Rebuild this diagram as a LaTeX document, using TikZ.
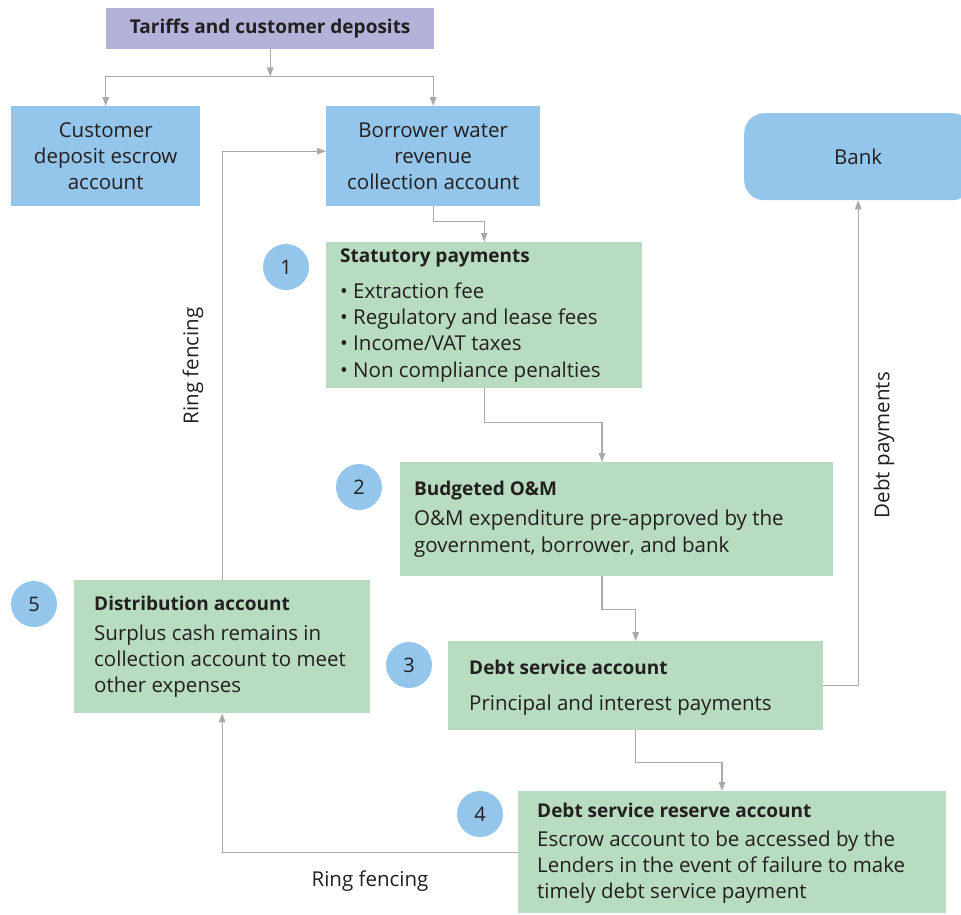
\documentclass[tikz,border=0pt]{standalone}
\usepackage{fontspec}
\setmainfont{Open Sans}
\usetikzlibrary{arrows.meta,calc}
\definecolor{blu}{HTML}{93C6EA}
\definecolor{grn}{HTML}{B8DCBF}
\definecolor{lav}{HTML}{B3B3DA}
\definecolor{lin}{HTML}{A7A9AC}
\definecolor{txt}{HTML}{231F20}
\newcommand{\ttl}[1]{{\fontsize{19}{26}\selectfont\bfseries #1}}
\begin{document}
\begin{tikzpicture}[x=1pt,y=-1pt,
  every node/.style={text=txt, font=\fontsize{20.5}{26.2}\selectfont},
  box/.style={draw=none, inner sep=0pt, anchor=north west},
  bluebox/.style={box, fill=blu},
  greenbox/.style={box, fill=grn},
  btext/.style={align=center, inner sep=0pt},
  gtext/.style={align=left, inner sep=0pt, anchor=west},
  num/.style={circle, fill=blu, minimum size=46pt, inner sep=0pt, font=\fontsize{20}{24}\selectfont},
  conn/.style={draw=lin, line width=1.4pt, -{Triangle[length=9pt,width=6.5pt]}},
  lbl/.style={inner sep=0pt}
]
\useasboundingbox[fill=white] (0,0) rectangle (961,914);

% boxes
\node[box, fill=lav, minimum width=328pt, minimum height=41pt] (tar) at (106,8) {};
\node[btext] at (tar.center) {\ttl{Tariffs and customer deposits}};

\node[bluebox, minimum width=189pt, minimum height=100pt] (cust) at (11,106) {};
\node[btext] at (cust.center) {Customer\\deposit escrow\\account};

\node[bluebox, minimum width=214pt, minimum height=100pt] (borrower) at (326,106) {};
\node[btext] at (borrower.center) {Borrower water\\revenue\\collection account};

\node[bluebox, rounded corners=20pt, minimum width=228pt, minimum height=87pt] (bank) at (744,113) {};
\node[btext] at (bank.center) {Bank};

\node[greenbox, minimum width=316pt, minimum height=146pt] (stat) at (326,242) {};
\node[gtext] at ([xshift=14pt]stat.west) {\ttl{Statutory payments}\\[10pt]
  • Extraction fee\\ • Regulatory and lease fees\\ • Income/VAT taxes\\ • Non compliance penalties};

\node[greenbox, minimum width=433pt, minimum height=114pt] (om) at (400,462) {};
\node[gtext] at ([xshift=14pt]om.west) {\ttl{Budgeted O\&M}\\[4pt]
  O\&M expenditure pre-approved by the\\ government, borrower, and bank};

\node[greenbox, minimum width=375pt, minimum height=89pt] (ds) at (448,641) {};
\node[gtext] at ([xshift=21pt,yshift=-2pt]ds.west) {\ttl{Debt service account}\\[9pt]
  Principal and interest payments};

\node[greenbox, minimum width=428pt, minimum height=122pt] (dsra) at (518,791) {};
\node[gtext] at ([xshift=19pt,yshift=-1pt]dsra.west) {\ttl{Debt service reserve account}\\[3pt]
  Escrow account to be accessed by the\\ Lenders in the event of failure to make\\ timely debt service payment};

\node[greenbox, minimum width=296pt, minimum height=133pt] (dist) at (74,580) {};
\node[gtext] at ([xshift=20pt]dist.west) {\ttl{Distribution account}\\[4pt]
  Surplus cash remains in\\ collection account to meet\\ other expenses};

% number circles
\node[num] (n1) at (286,267) {1};
\node[num] (n2) at (359,487) {2};
\node[num] (n3) at (409,665) {3};
\node[num] (n4) at (480,814) {4};
\node[num] (n5) at (34,604) {5};

% connectors
\coordinate (split) at ($(tar.south)+(0,27)$);
\draw[conn] (tar.south) -- (split);
\draw[conn] (split) -| (cust.north);
\draw[conn] (split) -| (borrower.north);
\draw[conn] (borrower.south) -- ++(0,15) -| (stat.north);
\draw[conn] (stat.south) -- ++(0,34) -| ([xshift=202pt]om.north west);
\draw[conn] ([xshift=202pt]om.south west) -- ++(0,33) -| (ds.north);
\draw[conn] (ds.south) -- ++(0,32) -| ([xshift=204pt]dsra.north west);
\draw[conn] (ds.east) -| (bank.south);
\draw[conn] (dsra.west) -| (dist.south);
\draw[conn] (dist.north) |- ([yshift=5pt]borrower.west);

% labels
\node[lbl, rotate=90] at (193,366) {Ring fencing};
\node[lbl, rotate=90] at (884,445) {Debt payments};
\node[lbl] at (370,881) {Ring fencing};
\end{tikzpicture}
\end{document}
